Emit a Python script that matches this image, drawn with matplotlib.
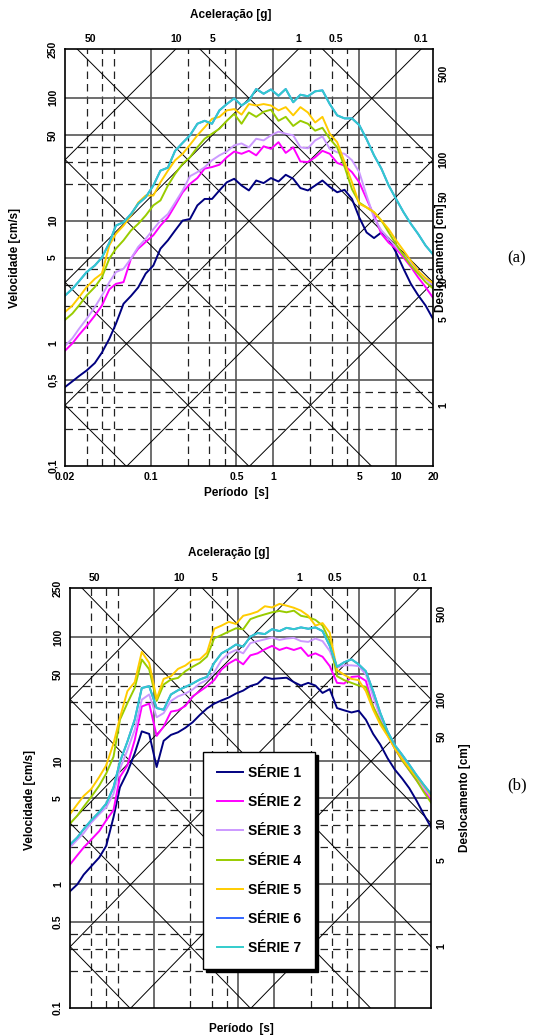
import numpy as np
import matplotlib.pyplot as plt
from matplotlib.ticker import NullLocator
from matplotlib.transforms import blended_transform_factory

plt.rcParams['font.family'] = ['Liberation Sans', 'DejaVu Sans']
plt.rcParams['font.weight'] = 'bold'

# period grid [s]
periodo = [0.02, 0.023, 0.026, 0.030, 0.035, 0.040, 0.046, 0.052, 0.060, 0.069,
           0.079, 0.091, 0.105, 0.12, 0.138, 0.158, 0.182, 0.209, 0.24, 0.275,
           0.316, 0.363, 0.417, 0.479, 0.55, 0.631, 0.724, 0.832, 0.955, 1.10,
           1.26, 1.45, 1.66, 1.91, 2.19, 2.51, 2.88, 3.31, 3.80, 4.37,
           5.01, 5.75, 6.61, 7.59, 8.71, 10.0, 11.5, 13.2, 15.1, 17.4, 20.0]

# ---- (a) pseudo-velocity [cm/s]
serie1_a = [0.44, 0.49, 0.54, 0.60, 0.69, 0.84, 1.09, 1.44, 2.1, 2.43,
            2.85, 3.7, 4.3, 5.9, 6.9, 8.3, 10.0, 10.3, 13.3, 15.0,
            15.0, 17.6, 20.5, 21.9, 19.3, 17.6, 21.2, 20.2, 22.2, 20.8,
            23.6, 21.9, 18.4, 17.6, 19.3, 21.2, 18.8, 17.0, 17.8, 15.0,
            10.6, 8.0, 7.2, 8.0, 7.1, 5.5, 4.05, 3.05, 2.47, 2.03, 1.58]
serie2_a = [0.87, 1.0, 1.17, 1.38, 1.68, 2.03, 2.75, 3.05, 3.15, 4.9,
            5.9, 6.7, 7.6, 9.1, 10.6, 13.3, 17.0, 19.9, 22.2, 26.5,
            27.3, 28.5, 32.8, 36.5, 35.0, 37.0, 34.0, 40.3, 38.4, 43.5,
            35.6, 39.5, 30.3, 30.0, 32.8, 37.0, 35.0, 29.5, 28.0, 24.8,
            20.5, 15.0, 11.0, 7.8, 6.6, 5.9, 5.0, 4.2, 3.45, 2.87, 2.35]
serie3_a = [0.95, 1.1, 1.31, 1.58, 1.97, 2.45, 3.15, 3.8, 4.05, 4.9,
            6.1, 7.1, 8.5, 10.0, 11.3, 14.0, 17.6, 23.0, 24.8, 27.2,
            31.0, 34.0, 36.5, 41.0, 42.5, 39.5, 46.4, 45.0, 49.5, 53.0,
            51.0, 49.5, 39.5, 38.8, 45.0, 48.5, 38.4, 36.0, 35.0, 31.0,
            24.8, 16.0, 10.5, 8.3, 7.1, 6.1, 5.2, 4.5, 3.8, 3.35, 2.95]
serie4_a = [1.55, 1.75, 2.03, 2.45, 2.87, 3.45, 4.9, 5.9, 6.9, 8.3,
            9.4, 11.0, 13.3, 14.6, 19.3, 24.0, 29.0, 32.8, 39.5, 46.4,
            51.0, 56.0, 65.0, 74.0, 61.5, 76.0, 70.0, 77.0, 80.0, 65.0,
            70.0, 59.0, 65.0, 61.5, 54.0, 57.0, 46.4, 39.5, 27.5, 18.0,
            14.0, 12.8, 11.7, 10.0, 8.0, 6.4, 5.2, 4.3, 3.7, 3.15, 2.8]
serie5_a = [1.8, 2.03, 2.37, 2.87, 3.35, 3.7, 6.3, 7.8, 9.1, 11.0,
            14.0, 16.0, 16.0, 20.5, 25.5, 31.0, 35.0, 41.5, 49.5, 57.5,
            67.4, 70.0, 79.0, 81.0, 73.0, 89.0, 86.6, 89.0, 86.6, 79.0,
            84.0, 72.0, 84.0, 76.0, 63.0, 70.0, 51.0, 43.5, 30.0, 20.5,
            13.7, 12.8, 11.7, 10.0, 8.5, 6.9, 5.7, 4.7, 3.9, 3.4, 3.1]
serie7_a = [2.45, 2.78, 3.2, 3.8, 4.3, 5.0, 6.6, 9.1, 9.7, 11.3,
            13.7, 15.5, 19.3, 25.5, 27.0, 37.0, 43.0, 49.5, 61.5, 65.0,
            61.5, 79.0, 89.0, 99.0, 86.6, 95.0, 118.0, 108.0, 117.0, 104.0,
            118.0, 92.0, 106.0, 103.0, 113.0, 115.0, 89.0, 72.0, 68.0, 68.0,
            60.0, 46.0, 34.0, 26.5, 19.3, 15.0, 11.7, 9.4, 7.8, 6.26, 5.3]
serie6_a = list(serie7_a)  # hidden under serie 7

# ---- (b)
serie1_b = [0.88, 1.0, 1.2, 1.4, 1.65, 2.05, 3.5, 6.1, 8.1, 11.5,
            17.3, 16.5, 8.9, 14.5, 16.2, 17.0, 18.5, 20.5, 23.5, 26.5,
            29.0, 30.8, 32.5, 35.0, 37.0, 40.3, 42.0, 47.5, 46.0, 46.5,
            47.0, 43.3, 40.6, 42.7, 40.6, 35.4, 38.0, 26.7, 25.6, 24.6,
            25.4, 21.5, 16.5, 13.5, 10.5, 8.5, 7.2, 6.0, 4.8, 3.7, 2.9]
serie2_b = [1.45, 1.72, 1.99, 2.3, 2.7, 3.3, 4.0, 7.4, 9.2, 14.7,
            27.5, 29.0, 15.9, 18.9, 25.0, 25.6, 27.8, 33.2, 36.5, 40.1,
            45.0, 54.8, 61.3, 66.2, 60.3, 71.3, 74.0, 79.8, 85.0, 78.8,
            82.3, 78.8, 82.3, 70.4, 74.0, 69.5, 58.4, 42.7, 42.2, 47.7,
            48.3, 44.3, 27.5, 20.2, 16.2, 12.6, 10.1, 8.4, 7.0, 5.8, 4.8]
serie3_b = [1.99, 2.3, 2.6, 3.15, 3.7, 4.2, 5.4, 8.6, 12.2, 17.8,
            31.2, 34.4, 22.5, 24.3, 30.5, 33.2, 35.0, 37.7, 42.2, 45.0,
            52.0, 65.4, 74.0, 78.8, 74.0, 89.5, 93.0, 96.0, 99.5, 95.0,
            97.5, 98.7, 93.0, 91.6, 97.5, 93.0, 77.4, 56.6, 59.2, 59.2,
            58.4, 49.9, 33.2, 22.2, 16.7, 13.2, 10.8, 8.6, 7.2, 6.0, 5.1]
serie4_b = [3.1, 3.6, 4.25, 5.1, 6.3, 7.9, 10.8, 21.5, 29.3, 38.8,
            66.0, 55.0, 30.5, 41.4, 45.5, 46.8, 53.1, 57.7, 62.1, 69.7,
            98.0, 104.0, 111.0, 118.0, 116.0, 140.0, 147.0, 153.0, 159.0, 163.0,
            159.0, 164.0, 149.0, 145.0, 138.0, 124.0, 93.0, 48.4, 44.9, 42.7,
            40.6, 39.6, 27.5, 20.8, 16.5, 12.6, 10.1, 8.4, 7.0, 5.6, 4.6]
serie5_b = [3.7, 4.45, 5.2, 5.9, 7.4, 9.2, 13.8, 22.3, 36.6, 43.2,
            76.0, 62.0, 31.6, 46.0, 48.3, 55.4, 59.0, 65.4, 66.2, 75.0,
            117.0, 124.0, 133.0, 128.0, 149.0, 154.0, 161.0, 178.0, 174.0, 186.0,
            180.0, 173.0, 164.0, 149.0, 124.0, 130.0, 109.0, 54.2, 49.6, 46.0,
            44.9, 36.6, 25.9, 19.6, 15.9, 12.6, 10.4, 8.7, 7.4, 6.3, 5.2]
serie7_b = [2.1, 2.4, 2.8, 3.3, 3.85, 4.5, 6.1, 9.8, 14.3, 21.5,
            38.8, 40.1, 26.7, 25.9, 34.4, 37.2, 39.6, 42.2, 45.5, 47.7,
            62.0, 74.0, 79.8, 87.2, 84.0, 101.0, 108.0, 106.0, 116.0, 112.0,
            119.0, 116.0, 120.0, 117.0, 120.0, 112.0, 85.0, 57.6, 62.7, 66.2,
            60.3, 53.0, 36.6, 24.3, 17.3, 13.4, 11.2, 9.3, 7.7, 6.4, 5.4]
serie6_b = list(serie7_b)  # hidden under serie 7

nomes = ['SÉRIE 1', 'SÉRIE 2', 'SÉRIE 3', 'SÉRIE 4', 'SÉRIE 5', 'SÉRIE 6', 'SÉRIE 7']
cores = ['#000080', '#ff00ff', '#cc99ff', '#99cc00', '#ffcc00', '#3366ff', '#33cccc']

# grid / label values
t_solid = [0.1, 0.5, 1, 5, 10]
t_dash = [0.03, 0.04, 0.05, 0.2, 0.3, 0.4, 2, 3, 4]
v_solid = [0.5, 1, 5, 10, 50, 100]
v_dash = [0.2, 0.3, 0.4, 2, 3, 4, 20, 30, 40]
acel_linhas = [0.001, 0.01, 0.1, 1, 10, 100, 1000]          # g
desl_linhas = [0.0001, 0.001, 0.01, 0.1, 1, 10, 100, 1000]  # cm
acel_rotulos = [50, 10, 5, 1, 0.5, 0.1]
desl_rotulos = [500, 100, 50, 10, 5, 1]
x_ticks = [0.02, 0.1, 0.5, 1, 5, 10, 20]
y_ticks = [0.1, 0.5, 1, 5, 10, 50, 100, 250]
y_lab_a = ['0,1', '0,5', '1', '5', '10', '50', '100', '250']
y_lab_b = ['0.1', '0.5', '1', '5', '10', '50', '100', '250']

g = 981.0


def tripartite(ax, series, ylabs, xlabels, desl_x):
    ax.set_xscale('log')
    ax.set_yscale('log')
    for t in t_solid:
        ax.axvline(t, color='#555555', lw=1.2, zorder=1)
    for t in t_dash:
        ax.axvline(t, color='#222222', lw=0.9, ls=(0, (6, 4)), zorder=1)
    for v in v_solid:
        ax.axhline(v, color='#555555', lw=1.2, zorder=1)
    for v in v_dash:
        ax.axhline(v, color='#222222', lw=0.9, ls=(0, (6, 4)), zorder=1)
    tt = np.array([0.01, 40.0])
    for a in acel_linhas:
        ax.plot(tt, a * g * tt / (2 * np.pi), color='k', lw=0.7, zorder=1)
    for d in desl_linhas:
        ax.plot(tt, 2 * np.pi * d / tt, color='k', lw=0.7, zorder=1)

    linhas = []
    for v, c, n in zip(series, cores, nomes):
        l, = ax.plot(periodo, v, color=c, lw=1.4, label=n, zorder=3)
        linhas.append(l)

    ax.set_xlim(0.02, 20)
    ax.set_ylim(0.1, 250)
    ax.xaxis.set_minor_locator(NullLocator())
    ax.yaxis.set_minor_locator(NullLocator())
    ax.set_xticks(x_ticks)
    ax.set_xticklabels([('%g' % t) for t in x_ticks] if xlabels else [''] * len(x_ticks))
    ax.set_yticks(y_ticks)
    ax.set_yticklabels(ylabs, rotation=90, va='center')
    ax.tick_params(length=0, labelsize=7.5, pad=4)
    ax.tick_params(axis='y', pad=5)
    for s in ax.spines.values():
        s.set_linewidth(1.2)
        s.set_zorder(4)

    top = blended_transform_factory(ax.transData, ax.transAxes)
    for a in acel_rotulos:
        ax.text(2 * np.pi * 250 / (a * g), 1.023, '%g' % a, transform=top,
                ha='center', va='center', fontsize=7.5)
    right = blended_transform_factory(ax.transAxes, ax.transData)
    for d in desl_rotulos:
        ax.text(1.015, 2 * np.pi * d / 20, '%g' % d, transform=right,
                rotation=90, ha='left', va='center', fontsize=7.5)
    ax.text(desl_x, 0.5, 'Deslocamento [cm]', transform=ax.transAxes,
            rotation=90, ha='center', va='center', fontsize=8.5)
    return linhas


fig = plt.figure(figsize=(5.47, 10.36), dpi=100)

ax1 = fig.add_axes([65 / 547, 1 - 466 / 1036, 368 / 547, 417 / 1036])
tripartite(ax1, [serie1_a, serie2_a, serie3_a, serie4_a, serie5_a, serie6_a, serie7_a],
           y_lab_a, True, 1.022)
ax1.text(0.451, 1.082, 'Aceleração [g]', transform=ax1.transAxes, ha='center',
         va='center', fontsize=8.5)
ax1.text(0.465, -0.064, 'Período  [s]', transform=ax1.transAxes, ha='center',
         va='center', fontsize=8.5)
ax1.text(-0.136, 0.5, 'Velocidade [cm/s]', transform=ax1.transAxes, rotation=90,
         ha='center', va='center', fontsize=8.5)

ax2 = fig.add_axes([70 / 547, 1 - 1008 / 1036, 361 / 547, 420 / 1036])
linhas = tripartite(ax2, [serie1_b, serie2_b, serie3_b, serie4_b, serie5_b, serie6_b, serie7_b],
                    y_lab_b, False, 1.094)
ax2.text(0.44, 1.083, 'Aceleração [g]', transform=ax2.transAxes, ha='center',
         va='center', fontsize=8.5)
ax2.text(0.474, -0.05, 'Período  [s]', transform=ax2.transAxes, ha='center',
         va='center', fontsize=8.5)
ax2.text(-0.111, 0.495, 'Velocidade [cm/s]', transform=ax2.transAxes, rotation=90,
         ha='center', va='center', fontsize=8.5)

leg = ax2.legend(handles=linhas, loc='upper left', bbox_to_anchor=(0.368, 0.610),
                 borderaxespad=0, prop={'weight': 'bold', 'size': 10},
                 frameon=True, fancybox=False, edgecolor='black', framealpha=1,
                 labelspacing=1.1, handlelength=1.9, handletextpad=0.35, borderpad=1.0,
                 shadow={'facecolor': 'black', 'edgecolor': 'black', 'alpha': 1})
leg.get_frame().set_linewidth(1.0)
leg.set_zorder(10)

fig.text(517 / 547, 1 - 258 / 1036, '(a)', family='Liberation Serif', weight='normal',
         fontsize=12, ha='center', va='center')
fig.text(517 / 547, 1 - 785 / 1036, '(b)', family='Liberation Serif', weight='normal',
         fontsize=12, ha='center', va='center')

fig.savefig('out.png', dpi=100)
